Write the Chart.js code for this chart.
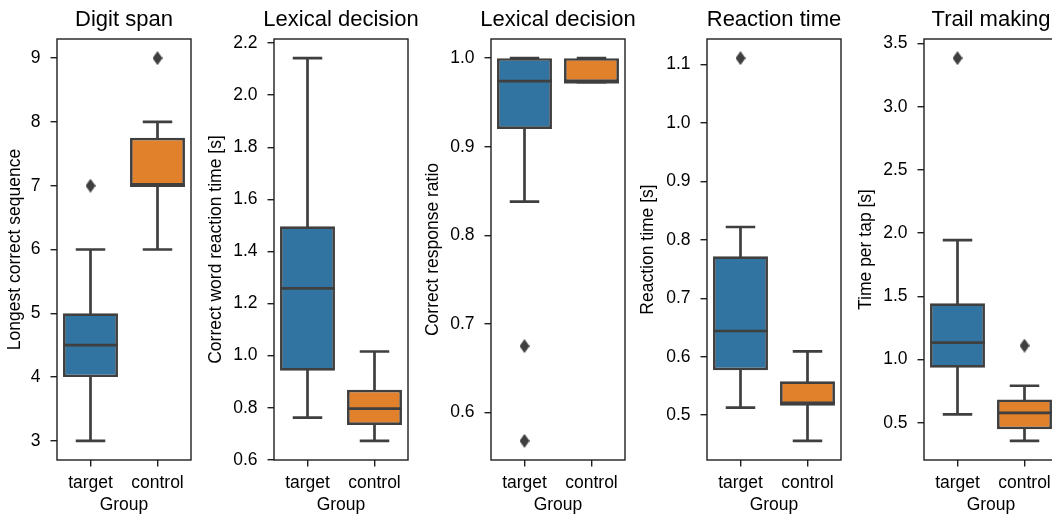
<!DOCTYPE html>
<html>
<head>
<meta charset="utf-8">
<script src="https://cdn.jsdelivr.net/npm/chart.js@4.4.1/dist/chart.umd.min.js"></script>
<style>
  html, body { margin: 0; padding: 0; background: #fff; overflow: hidden; }
  body { width: 1052px; height: 516px; position: relative; }
  canvas { position: absolute; top: 0; }
</style>
</head>
<body>
<script>
// data
var groups = ['target', 'control'];
var titles = ['Digit span', 'Lexical decision', 'Lexical decision', 'Reaction time', 'Trail making'];
var yTitles = ['Longest correct sequence', 'Correct word reaction time [s]', 'Correct response ratio',
               'Reaction time [s]', 'Time per tap [s]'];

var whiskerLow  = [[3, 6], [0.762, 0.673], [0.838, 0.973], [0.513, 0.456], [0.566, 0.357]];
var q1          = [[4, 7], [0.942, 0.734], [0.920, 0.973], [0.577, 0.516], [0.936, 0.449]];
var median      = [[4.5, 7], [1.258, 0.797], [0.974, 0.973], [0.644, 0.521], [1.134, 0.579]];
var q3          = [[5, 7.75], [1.497, 0.869], [1.0, 1.0], [0.772, 0.558], [1.445, 0.685]];
var whiskerHigh = [[6, 8], [2.142, 1.016], [1.0, 1.0], [0.822, 0.609], [1.945, 0.793]];
var outliers    = [[[7], [9]], [[], []], [[0.675, 0.568], []], [[1.111], []], [[3.384], [1.11]]];

var yTicks = [[3, 4, 5, 6, 7, 8, 9],
              [0.6, 0.8, 1.0, 1.2, 1.4, 1.6, 1.8, 2.0, 2.2],
              [0.6, 0.7, 0.8, 0.9, 1.0],
              [0.5, 0.6, 0.7, 0.8, 0.9, 1.0, 1.1],
              [0.5, 1.0, 1.5, 2.0, 2.5, 3.0, 3.5]];
var tickDecimals = [0, 1, 1, 1, 1];

// look
var boxColors = ['#3274a1', '#e1812c'];
var INK = '#3f3f3f', SPINE = '#1e1e1e';
var AXIS_W = 72, PLOT_W = 134;
var plotLeft = [57, 274, 490.5, 707, 924];
var labelGap = [42, 58, 58, 58.5, 58.3];

Chart.defaults.font.family = "'Liberation Sans', Arial, sans-serif";
Chart.defaults.font.size = 17.5;
Chart.defaults.color = '#000';

// thin diamond marker like seaborn's fliers
var diamond = document.createElement('canvas');
diamond.width = 10; diamond.height = 14;
var dctx = diamond.getContext('2d');
dctx.fillStyle = INK;
dctx.beginPath();
dctx.moveTo(5, 0); dctx.lineTo(10, 7); dctx.lineTo(5, 14); dctx.lineTo(0, 7);
dctx.closePath(); dctx.fill();

// full box around the plot area (matplotlib spines)
var frame = {
  id: 'frame',
  afterDatasetsDraw: function(chart) {
    var a = chart.chartArea, c = chart.ctx;
    c.save();
    c.strokeStyle = SPINE;
    c.lineWidth = 1.4;
    c.strokeRect(a.left, a.top, a.right - a.left, a.bottom - a.top);
    c.restore();
  }
};

function whiskerPoints(p) {
  var pts = [];
  groups.forEach(function(g, i) {
    var lo = whiskerLow[p][i], hi = whiskerHigh[p][i];
    pts.push({x: i, y: q1[p][i]}, {x: i, y: lo}, {x: i, y: null});
    pts.push({x: i, y: q3[p][i]}, {x: i, y: hi}, {x: i, y: null});
    pts.push({x: i - 0.2, y: lo}, {x: i + 0.2, y: lo}, {x: i, y: null});
    pts.push({x: i - 0.2, y: hi}, {x: i + 0.2, y: hi}, {x: i, y: null});
  });
  return pts;
}

function medianPoints(p) {
  var pts = [];
  groups.forEach(function(g, i) {
    pts.push({x: i - 0.41, y: median[p][i]}, {x: i + 0.41, y: median[p][i]}, {x: i, y: null});
  });
  return pts;
}

function outlierPoints(p) {
  var pts = [];
  groups.forEach(function(g, i) {
    outliers[p][i].forEach(function(v) { pts.push({x: i, y: v}); });
  });
  return pts;
}

function makePanel(p) {
  var cv = document.createElement('canvas');
  // symmetric around the plot so the title centres on it
  cv.width = AXIS_W + PLOT_W + AXIS_W;
  cv.height = 516;
  cv.style.left = (plotLeft[p] - AXIS_W) + 'px';
  document.body.appendChild(cv);

  var all = whiskerLow[p].concat(whiskerHigh[p], outliers[p][0], outliers[p][1]);
  var lo = Math.min.apply(null, all), hi = Math.max.apply(null, all);
  var margin = (hi - lo) * 0.05;

  var tickGrid = {
    drawOnChartArea: false, drawTicks: true, tickLength: 6.5,
    color: SPINE, tickColor: SPINE, lineWidth: 1.4, offset: false
  };

  new Chart(cv.getContext('2d'), {
    type: 'bar',
    data: {
      datasets: [
        {
          type: 'bar',
          data: groups.map(function(g, i) { return {x: i, y: [q1[p][i], q3[p][i]]}; }),
          backgroundColor: boxColors,
          borderColor: INK,
          borderWidth: 2.7,
          borderSkipped: false,
          grouped: false,
          barPercentage: 0.82,
          categoryPercentage: 1,
          order: 2
        },
        {
          type: 'scatter',
          data: whiskerPoints(p),
          showLine: true, spanGaps: false,
          borderColor: INK, borderWidth: 2.7, borderCapStyle: 'square',
          pointRadius: 0,
          order: 3
        },
        {
          type: 'scatter',
          data: medianPoints(p),
          showLine: true, spanGaps: false,
          borderColor: INK, borderWidth: 2.7,
          pointRadius: 0,
          order: 1
        },
        {
          type: 'scatter',
          data: outlierPoints(p),
          pointStyle: diamond,
          pointRadius: 6,
          order: 0
        }
      ]
    },
    options: {
      responsive: false,
      animation: false,
      layout: { padding: 0 },
      plugins: {
        legend: { display: false },
        tooltip: { enabled: false },
        title: {
          display: true, text: titles[p],
          font: { size: 22, weight: 'normal' }, color: '#000',
          padding: { top: 7.2, bottom: 5.4 }
        }
      },
      scales: {
        x: {
          type: 'linear', offset: false,
          min: -0.5, max: 1.5,
          grid: tickGrid,
          border: { display: false },
          afterBuildTicks: function(s) {
            s.ticks = groups.map(function(g, i) { return {value: i}; });
          },
          ticks: {
            padding: 6, maxRotation: 0, autoSkip: false,
            callback: function(v, i) { return groups[i]; }
          },
          title: { display: true, text: 'Group', padding: { top: 0, bottom: 0 } },
          afterFit: function(s) { s.height = 56; }
        },
        y: {
          type: 'linear',
          min: lo - margin, max: hi + margin,
          grid: tickGrid,
          border: { display: false },
          afterBuildTicks: function(s) {
            s.ticks = yTicks[p].map(function(v) { return {value: v}; });
          },
          ticks: {
            padding: 10,
            callback: function(v) { return Number(v).toFixed(tickDecimals[p]); }
          },
          title: {
            display: true, text: yTitles[p],
            padding: { top: AXIS_W - labelGap[p] - 10.5, bottom: 0 }
          },
          afterFit: function(s) { s.width = AXIS_W; }
        },
        // empty spacer on the right, keeps the plot centred in its canvas
        yRight: {
          type: 'linear', position: 'right',
          grid: { display: false }, border: { display: false },
          ticks: { display: false },
          afterFit: function(s) { s.width = AXIS_W; }
        }
      }
    },
    plugins: [frame]
  });
}

for (var p = 0; p < titles.length; p++) makePanel(p);
</script>
</body>
</html>
